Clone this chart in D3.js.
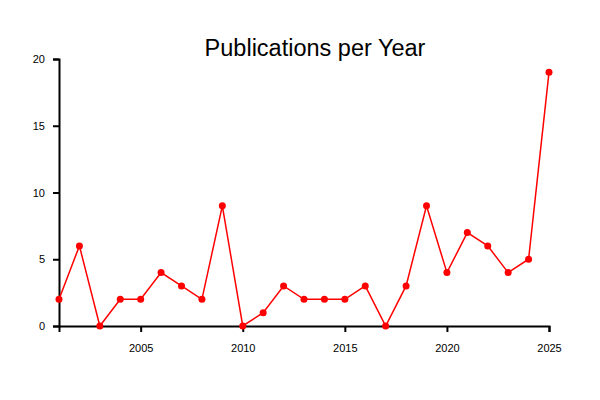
<!DOCTYPE html>
<html>
<head>
<meta charset="utf-8">
<script src="https://cdn.jsdelivr.net/npm/d3@7"></script>
<style>
  body { margin: 0; background: #fff; }
  text { font-family: "Liberation Sans", Arial, sans-serif; }
</style>
</head>
<body>
<script>
const years  = [2001, 2002, 2003, 2004, 2005, 2006, 2007, 2008, 2009, 2010, 2011, 2012, 2013,
                2014, 2015, 2016, 2017, 2018, 2019, 2020, 2021, 2022, 2023, 2024, 2025];
const counts = [2, 6, 0, 2, 2, 4, 3, 2, 9, 0, 1, 3, 2,
                2, 2, 3, 0, 3, 9, 4, 7, 6, 4, 5, 19];
const xTicks = [2005, 2010, 2015, 2020, 2025];
const yTicks = [0, 5, 10, 15, 20];

const margin = { top: 59, right: 51, bottom: 74, left: 59 };
const width  = 600 - margin.left - margin.right;
const height = 400 - margin.top - margin.bottom;

const data = years.map((y, i) => ({ year: y, count: counts[i] }));

const x = d3.scaleLinear().domain([2001, 2025]).range([0, width]);
const y = d3.scaleLinear().domain([0, 20]).range([height, 0]);

const svg = d3.select('body').append('svg')
    .attr('width', 600)
    .attr('height', 400);

svg.append('text')
    .attr('x', 315)
    .attr('y', 56)
    .attr('text-anchor', 'middle')
    .style('font-size', '23.5px')
    .text('Publications per Year');

const g = svg.append('g')
    .attr('transform', 'translate(' + margin.left + ',' + margin.top + ')');

const xAxis = g.append('g')
    .attr('transform', 'translate(0,' + height + ')')
    .call(d3.axisBottom(x).tickValues(xTicks).tickFormat(d3.format('d')).tickSize(6).tickPadding(12));

const yAxis = g.append('g')
    .call(d3.axisLeft(y).tickValues(yTicks).tickSize(6).tickPadding(8));

[xAxis, yAxis].forEach(a => {
  a.select('.domain').attr('stroke-width', 2);
  a.selectAll('.tick line').attr('stroke-width', 2);
  a.selectAll('.tick text').style('font-size', '11px').attr('fill', '#000');
});

const line = d3.line()
    .x(d => x(d.year))
    .y(d => y(d.count));

g.append('path')
    .datum(data)
    .attr('fill', 'none')
    .attr('stroke', '#ff0000')
    .attr('stroke-width', 1.5)
    .attr('d', line);

g.selectAll('.dot')
    .data(data)
    .enter().append('circle')
    .attr('class', 'dot')
    .attr('cx', d => x(d.year))
    .attr('cy', d => y(d.count))
    .attr('r', 3.5)
    .attr('fill', '#ff0000');
</script>
</body>
</html>
